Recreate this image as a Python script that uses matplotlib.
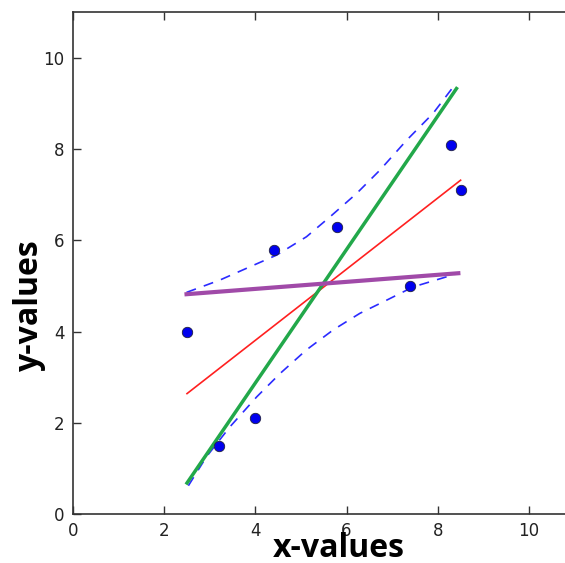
import matplotlib
matplotlib.use('Agg')
import matplotlib.pyplot as plt

# Observed points
xPoints = [2.5, 3.2, 4.0, 4.4, 5.8, 7.4, 8.3, 8.5]
yPoints = [4.0, 1.5, 2.1, 5.8, 6.3, 5.0, 8.1, 7.1]

# Fit lines (end points)
redX = [2.5, 8.5]
redY = [2.64, 7.32]
greenX = [2.5, 8.41]
greenY = [0.68, 9.33]
purpleX = [2.49, 8.45]
purpleY = [4.82, 5.28]

# Confidence band (dashed)
upperX = [2.49, 3.22, 3.81, 4.47, 5.12, 5.64, 6.22, 6.73, 7.32, 7.90, 8.41]
upperY = [4.86, 5.13, 5.39, 5.68, 6.08, 6.52, 7.03, 7.54, 8.20, 8.79, 9.46]
lowerX = [2.53, 2.93, 3.44, 4.03, 4.54, 5.12, 5.71, 6.29, 6.88, 7.46, 8.45]
lowerY = [0.62, 1.26, 1.91, 2.57, 3.08, 3.60, 4.04, 4.40, 4.69, 4.98, 5.28]

xTicks = [0, 2, 4, 6, 8, 10]
yTicks = [0, 2, 4, 6, 8, 10]

fig = plt.figure(figsize=(5.65, 5.63), dpi=100)
area = fig.add_axes([73 / 565, 49 / 563, 501.6 / 565, 501.6 / 563])
area.set_xlim(0, 11)
area.set_ylim(0, 11)

area.plot(upperX, upperY, '--', color='#2b2bff', lw=1.2, dashes=(6, 5))
area.plot(lowerX, lowerY, '--', color='#2b2bff', lw=1.2, dashes=(6, 5))
area.plot(redX, redY, color='#ff2020', lw=1.2)
area.plot(greenX, greenY, color='#22a84a', lw=2.5)
area.plot(purpleX, purpleY, color='#a04aa8', lw=3)
area.plot(xPoints, yPoints, 'o', color='#0000ee', markersize=7.5,
          markeredgecolor='#202040', markeredgewidth=0.6)

area.set_xticks(xTicks)
area.set_yticks(yTicks)
area.tick_params(direction='in', top=True, right=True, length=6, width=1,
                 color='#333333', labelsize=12, labelcolor='#222222', pad=6)
for spine in area.spines.values():
    spine.set_color('#333333')
    spine.set_linewidth(1.2)

area.text(0.53, -0.068, 'x-values', transform=area.transAxes, ha='center', va='center',
          fontsize=23, fontweight='bold', family='Open Sans')
area.text(-0.086, 0.417, 'y-values', transform=area.transAxes, ha='center', va='center',
          rotation=90, fontsize=23, fontweight='bold', family='Open Sans')

fig.savefig('out.png', dpi=100)
